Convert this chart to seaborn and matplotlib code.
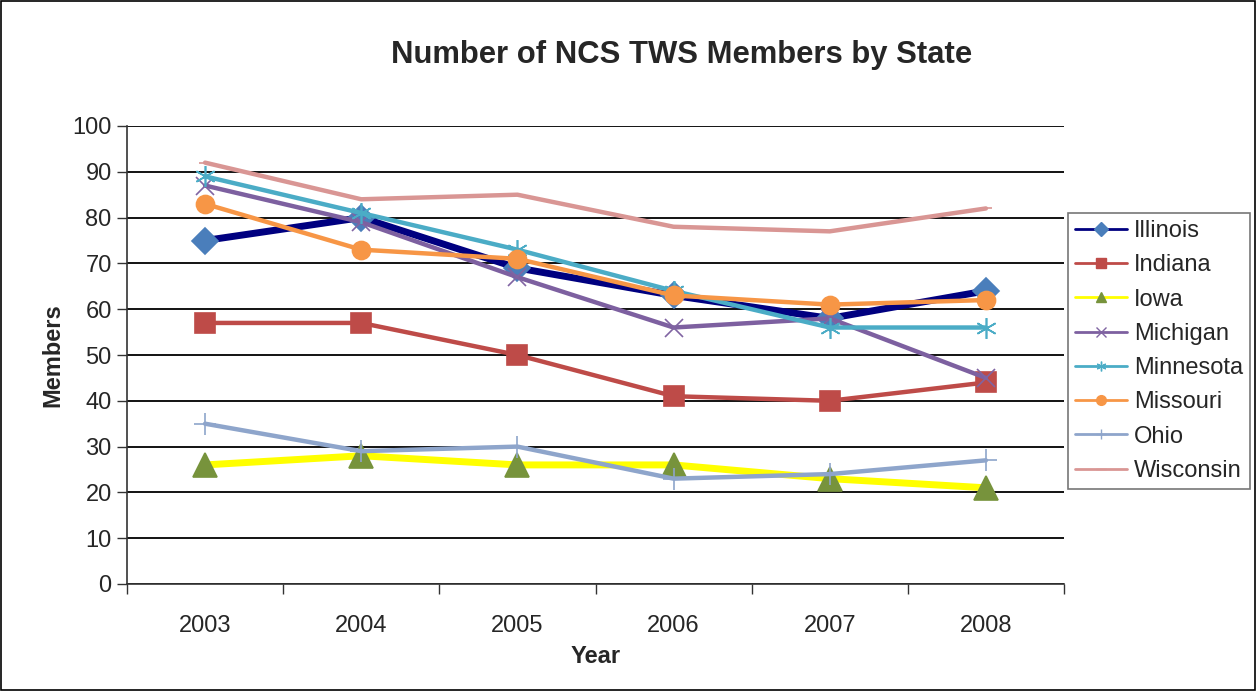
import matplotlib
matplotlib.use("Agg")
import matplotlib.pyplot as plt
from matplotlib.lines import Line2D
from matplotlib.patches import Rectangle
import seaborn as sns
import pandas as pd

# Data
years = [2003, 2004, 2005, 2006, 2007, 2008]
states = ["Illinois", "Indiana", "Iowa", "Michigan", "Minnesota", "Missouri", "Ohio", "Wisconsin"]
illinois = [75, 80, 69, 63, 58, 64]
indiana = [57, 57, 50, 41, 40, 44]
iowa = [26, 28, 26, 26, 23, 21]
michigan = [87, 79, 67, 56, 58, 45]
minnesota = [89, 81, 73, 64, 56, 56]
missouri = [83, 73, 71, 63, 61, 62]
ohio = [35, 29, 30, 23, 24, 27]
wisconsin = [92, 84, 85, 78, 77, 82]

values = [illinois, indiana, iowa, michigan, minnesota, missouri, ohio, wisconsin]
df = pd.DataFrame({
    "Year": years * len(states),
    "State": [s for s in states for _ in years],
    "Members": [v for vals in values for v in vals],
})

# line colour, line width, marker, marker colour, marker size
styles = {
    "Illinois":  ("#000080", 5.0, "D", "#4A7EBB", 13),
    "Indiana":   ("#BE4B48", 3.2, "s", "#BE4B48", 14),
    "Iowa":      ("#FFFF00", 5.0, "^", "#77933C", 17),
    "Michigan":  ("#7D60A0", 3.2, "x", "#8064A2", 13),
    "Minnesota": ("#4BACC6", 3.2, (6, 2, 0), "#4BACC6", 15),
    "Missouri":  ("#F79646", 3.2, "o", "#F79646", 13),
    "Ohio":      ("#8EA5CB", 3.2, "+", "#8EA5CB", 16),
    "Wisconsin": ("#D99694", 3.2, "_", "#D99694", 9),
}

sns.set_style("white")
plt.rcParams["font.family"] = ["Liberation Sans", "DejaVu Sans"]

fig = plt.figure(figsize=(12.56, 6.91), dpi=100)
ax = fig.add_axes([127 / 1256, 1 - 584 / 691, (1064 - 127) / 1256, (584 - 126) / 691])

for state in states:
    color, lw, marker, mcolor, ms = styles[state]
    sns.lineplot(data=df[df["State"] == state], x="Year", y="Members", ax=ax,
                 color=color, linewidth=lw, marker=marker, markersize=ms,
                 markerfacecolor=mcolor, markeredgecolor=mcolor,
                 markeredgewidth=1.2, legend=False)

ax.set_xlim(2002.5, 2008.5)
ax.set_ylim(0, 100)
ax.set_yticks(range(0, 101, 10))
ax.set_xticks([y - 0.5 for y in years] + [years[-1] + 0.5])
ax.set_xticklabels([])
ax.set_xticks(years, minor=True)
ax.set_xticklabels([str(y) for y in years], minor=True)
ax.tick_params(axis="x", which="major", length=7, width=1, color="#333333", direction="out", bottom=True)
ax.tick_params(axis="x", which="minor", length=0, labelsize=17, pad=22)
ax.tick_params(axis="y", length=7, width=1, color="#333333", direction="out", left=True, labelsize=17, pad=4)

ax.grid(axis="y", color="black", linewidth=1.3)
ax.grid(axis="x", visible=False)
ax.set_axisbelow(True)
for side in ["top", "right"]:
    ax.spines[side].set_visible(False)
for side in ["left", "bottom"]:
    ax.spines[side].set_color("#333333")
    ax.spines[side].set_linewidth(1.2)

ax.set_xlabel("Year", fontsize=17, fontweight="bold", labelpad=6)
ax.set_ylabel("Members", fontsize=17, fontweight="bold", labelpad=6)
fig.text(682 / 1256, 1 - 55 / 691, "Number of NCS TWS Members by State",
         ha="center", va="center", fontsize=22.3, fontweight="bold")

handles = []
for state in states:
    color, lw, marker, mcolor, ms = styles[state]
    handles.append(Line2D([], [], color=color, linewidth=2, marker=marker,
                          markersize=7, markerfacecolor=mcolor, markeredgecolor=mcolor))
leg = fig.legend(handles, states, loc="upper left",
                 bbox_to_anchor=(1068 / 1256, 1 - 213 / 691),
                 fontsize=17, frameon=True, fancybox=False, handlelength=2.2,
                 handletextpad=0.3, labelspacing=0.52, borderpad=0.3, borderaxespad=0)
leg.get_frame().set_edgecolor("#555555")
leg.get_frame().set_linewidth(1.2)

fig.patches.append(Rectangle((0.001, 0.001), 0.998, 0.998, transform=fig.transFigure,
                             fill=False, edgecolor="black", linewidth=1.2))

fig.savefig("out.png", dpi=100, facecolor="white")
